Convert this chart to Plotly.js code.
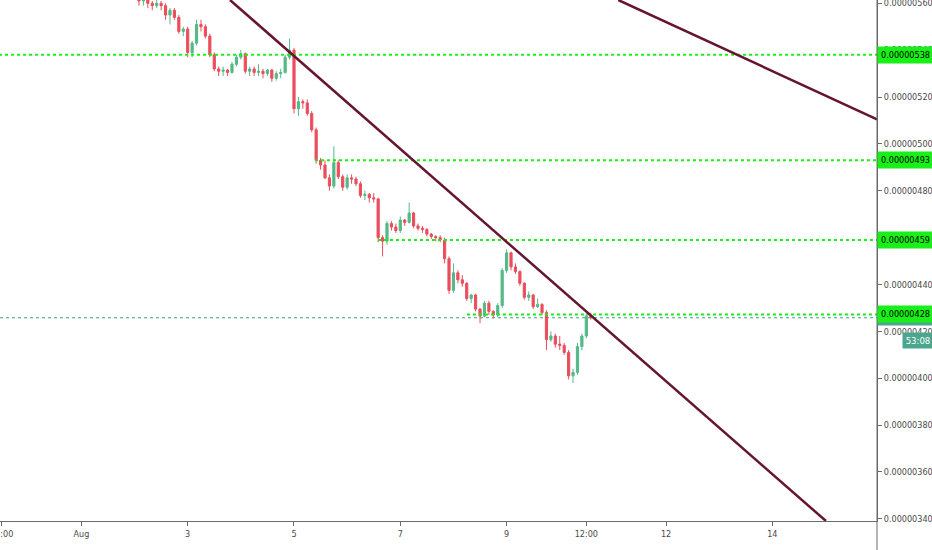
<!DOCTYPE html>
<html>
<head>
<meta charset="utf-8">
<script src="https://cdn.plot.ly/plotly-3.0.1.min.js"></script>
<style>
html,body{margin:0;padding:0;background:#fff;}
#chart{width:932px;height:550px;}
#chart text{font-stretch:condensed !important;}
</style>
</head>
<body>
<div id="chart"></div>
<script>
// ---- data (prices in units of 1e-8) ----
const candleStart = Date.UTC(2019, 7, 2, 2, 0);   // first candle time
const candleIntervalHours = 2;

const open = [563,561,562,560,559,560,559,555,557,554,548,549,539,543,551,550,546,538,532,531,531.5,530.5,534,537,
538.5,531,532,530.5,531,530,531.5,528,530,530.5,537,540,515,518,517.5,513,506,493,491,485.5,482,492,486,481.5,485.5,485,
483,478,478.5,477,476.5,460,458.5,466,464.5,463,467.5,466.5,470.5,465,464,463.5,461.5,460.5,460,459,451,437.5,445,442,
440.5,434,435.5,429.5,426.5,432,428.5,427,431,446,453.5,447.5,445.5,440.5,434.5,435.5,430.5,431.5,428,416.5,418,414.5,
414,411,401,402.5,413.5,418,426.5];
const high = [565,564,563,561,562,561,560,558,558,555,550,550,544,553,553,551,547,539,533,533,532,535,538,540,
539,533,533,534,532,532,532,531,532,538,545,541,520,519,519,514,507,494,493,487,499,493,487,487,487,486,
484,480,479,479,477,461,467,467,466,469,468,475,471,466,465,464,462,461,461,460,452,449,446,444,
441,436,436,430,433,433,429,432,447,455,454,449,446,441,437,436,434,432,429,420,419,418,
415,412,404,415,419,428,428];
const low = [559,559,558,557,558,557,553,551,553,547,546,537,537,542,548,545,537,531,529,529,529,530,533,536,
530,529,529,529,528,529,526.5,527,528,530,536,513,512,515,512,505,491.5,489,485,480,481,485,480,480.5,483,482,
477,476,475,475,458,452,457,463,462,462,465,466,464,463,462,460.5,459.5,458.5,458,449,436,436.5,440.5,439,
433,432,428.5,423.5,426,427,425.5,426,430,445,446,444.5,439.5,433.5,433,429.5,430,427,412,415.5,413,412,
410,399.5,398,401.5,412,417,425];
const close = [561,562,560,559,560,559,555,557,554,548,549,539,543,551,550,546,538,532,531,531.5,530.5,534,537,538.5,
531,532,530.5,531,530,531.5,528,530,530.5,537,540,515,518,517.5,513,506,493,491,485.5,482,492,486,481.5,485.5,485,483,
478,478.5,477,476.5,460,458.5,466,464.5,463,467.5,466.5,470.5,465,464,463.5,461.5,460.5,460,459,451,437.5,445,442,440.5,
434,435.5,429.5,426.5,432,428.5,427,431,446,453.5,447.5,445.5,440.5,434.5,435.5,430.5,431.5,428,416.5,418,414.5,414,
411,401,402.5,413.5,418,426.5,425.8];

// horizontal support / resistance levels
const levelValues = [538, 493, 459, 427.2];
const levelLabels = ['0.00000538', '0.00000493', '0.00000459', '0.00000428'];
const levelStarts = ['2019-07-30 00:00', '2019-08-05 09:29', '2019-08-06 13:55', '2019-08-08 06:07'];

// trend lines [time0, price0, time1, price1]
const trendLines = [
  ['2019-08-03 19:06', 561.41, '2019-08-15 00:12', 339.06],
  ['2019-08-11 02:26', 561.41, '2019-08-15 23:15', 510.5]
];

const currentPrice = 425.8;
const currentLabel = '0.00000427';
const countdownText = '53:08';

const xTickVals = ['2019-07-30 12:00','2019-08-01 00:00','2019-08-03 00:00','2019-08-05 00:00','2019-08-07 00:00',
                   '2019-08-09 00:00','2019-08-10 12:00','2019-08-12 00:00','2019-08-14 00:00'];
const xTickText = ['12:00','Aug','3','5','7','9','12:00','12','14'];

// ---- build ----
const SAT = 1e-8;
function fmt(ms){ return new Date(ms).toISOString().slice(0,16).replace('T',' '); }
const times = close.map((_, i) => fmt(candleStart + i * candleIntervalHours * 3600000));

const FONT = '"DejaVu Sans Condensed", "DejaVu Sans", sans-serif';
const FS = 9;
const UP = '#53b987', DOWN = '#eb4d5c';
const LEVEL_COLOR = '#18f018';
const TREND_COLOR = '#661530';

const trace = {
  type: 'candlestick',
  x: times,
  open: open.map(v => v * SAT),
  high: high.map(v => v * SAT),
  low: low.map(v => v * SAT),
  close: close.map(v => v * SAT),
  increasing: {line: {color: UP, width: 1}, fillcolor: UP},
  decreasing: {line: {color: DOWN, width: 1}, fillcolor: DOWN},
  hoverinfo: 'skip',
  showlegend: false
};

const shapes = [];
shapes.push({type:'line', xref:'paper', yref:'y', x0:0, x1:1, y0:currentPrice*SAT, y1:currentPrice*SAT,
             line:{color:'#3f9a88', width:1, dash:'dot'}, layer:'below'});
levelValues.forEach((v, k) => {
  shapes.push({type:'line', xref:'x', yref:'y', x0:levelStarts[k], x1:'2019-08-17 00:00',
               y0:v*SAT, y1:v*SAT, line:{color:LEVEL_COLOR, width:2, dash:'dot'}});
});
trendLines.forEach(t => {
  shapes.push({type:'line', xref:'x', yref:'y', x0:t[0], y0:t[1]*SAT, x1:t[2], y1:t[3]*SAT,
               line:{color:TREND_COLOR, width:2.5}});
});
shapes.push({type:'line', xref:'paper', yref:'paper', x0:1, x1:1, y0:-0.06, y1:1,
             line:{color:'#6b6b6b', width:1}});

const annotations = [];
annotations.push({xref:'paper', yref:'y', x:1, y:currentPrice*SAT, xanchor:'left', yanchor:'middle',
  text:currentLabel, showarrow:false, bgcolor:'#4aa68c', width:53, height:13, borderpad:1, align:'center',
  font:{family:FONT, size:FS, color:'#ffffff'}});
annotations.push({xref:'paper', yref:'y', x:1, y:currentPrice*SAT, xshift:25, yshift:-23, xanchor:'left', yanchor:'middle',
  text:countdownText, showarrow:false, bgcolor:'#4aa68c', width:28, height:13, borderpad:1, align:'center',
  font:{family:FONT, size:9.5, color:'#ffffff'}});
levelValues.forEach((v, k) => {
  annotations.push({xref:'paper', yref:'y', x:1, y:v*SAT, xanchor:'left', yanchor:'middle',
    text:levelLabels[k], showarrow:false, bgcolor:LEVEL_COLOR, width:53, height:14, borderpad:1, align:'center',
    font:{family:FONT, size:FS, color:'#000000'}});
});

const layout = {
  width: 932, height: 550,
  margin: {l:0, r:55, t:0, b:29, pad:0},
  paper_bgcolor: '#ffffff', plot_bgcolor: '#ffffff',
  showlegend: false,
  font: {family: FONT, size: FS, color: '#4a4a4a'},
  xaxis: {
    type: 'date',
    range: ['2019-07-30 11:15', '2019-08-15 23:15'],
    rangeslider: {visible: false},
    tickmode: 'array', tickvals: xTickVals, ticktext: xTickText,
    ticks: 'outside', ticklen: 4, tickcolor: '#6b6b6b',
    showgrid: false, zeroline: false,
    showline: true, linecolor: '#6b6b6b', linewidth: 1,
    ticklabeloverflow: 'allow',
    tickfont: {family: FONT, size: FS, color: '#4a4a4a'},
    fixedrange: true
  },
  yaxis: {
    side: 'right',
    range: [339.06*SAT, 561.41*SAT],
    tickmode: 'linear', tick0: 0, dtick: 20*SAT,
    tickformat: '.8f',
    ticks: 'outside', ticklen: 4, tickcolor: '#6b6b6b',
    showgrid: false, zeroline: false,
    showline: true, linecolor: '#6b6b6b', linewidth: 1,
    tickfont: {family: FONT, size: FS, color: '#4a4a4a'},
    ticklabeloverflow: 'allow',
    fixedrange: true
  },
  shapes: shapes,
  annotations: annotations
};

Plotly.newPlot('chart', [trace], layout, {displayModeBar: false, staticPlot: true});
</script>
</body>
</html>
